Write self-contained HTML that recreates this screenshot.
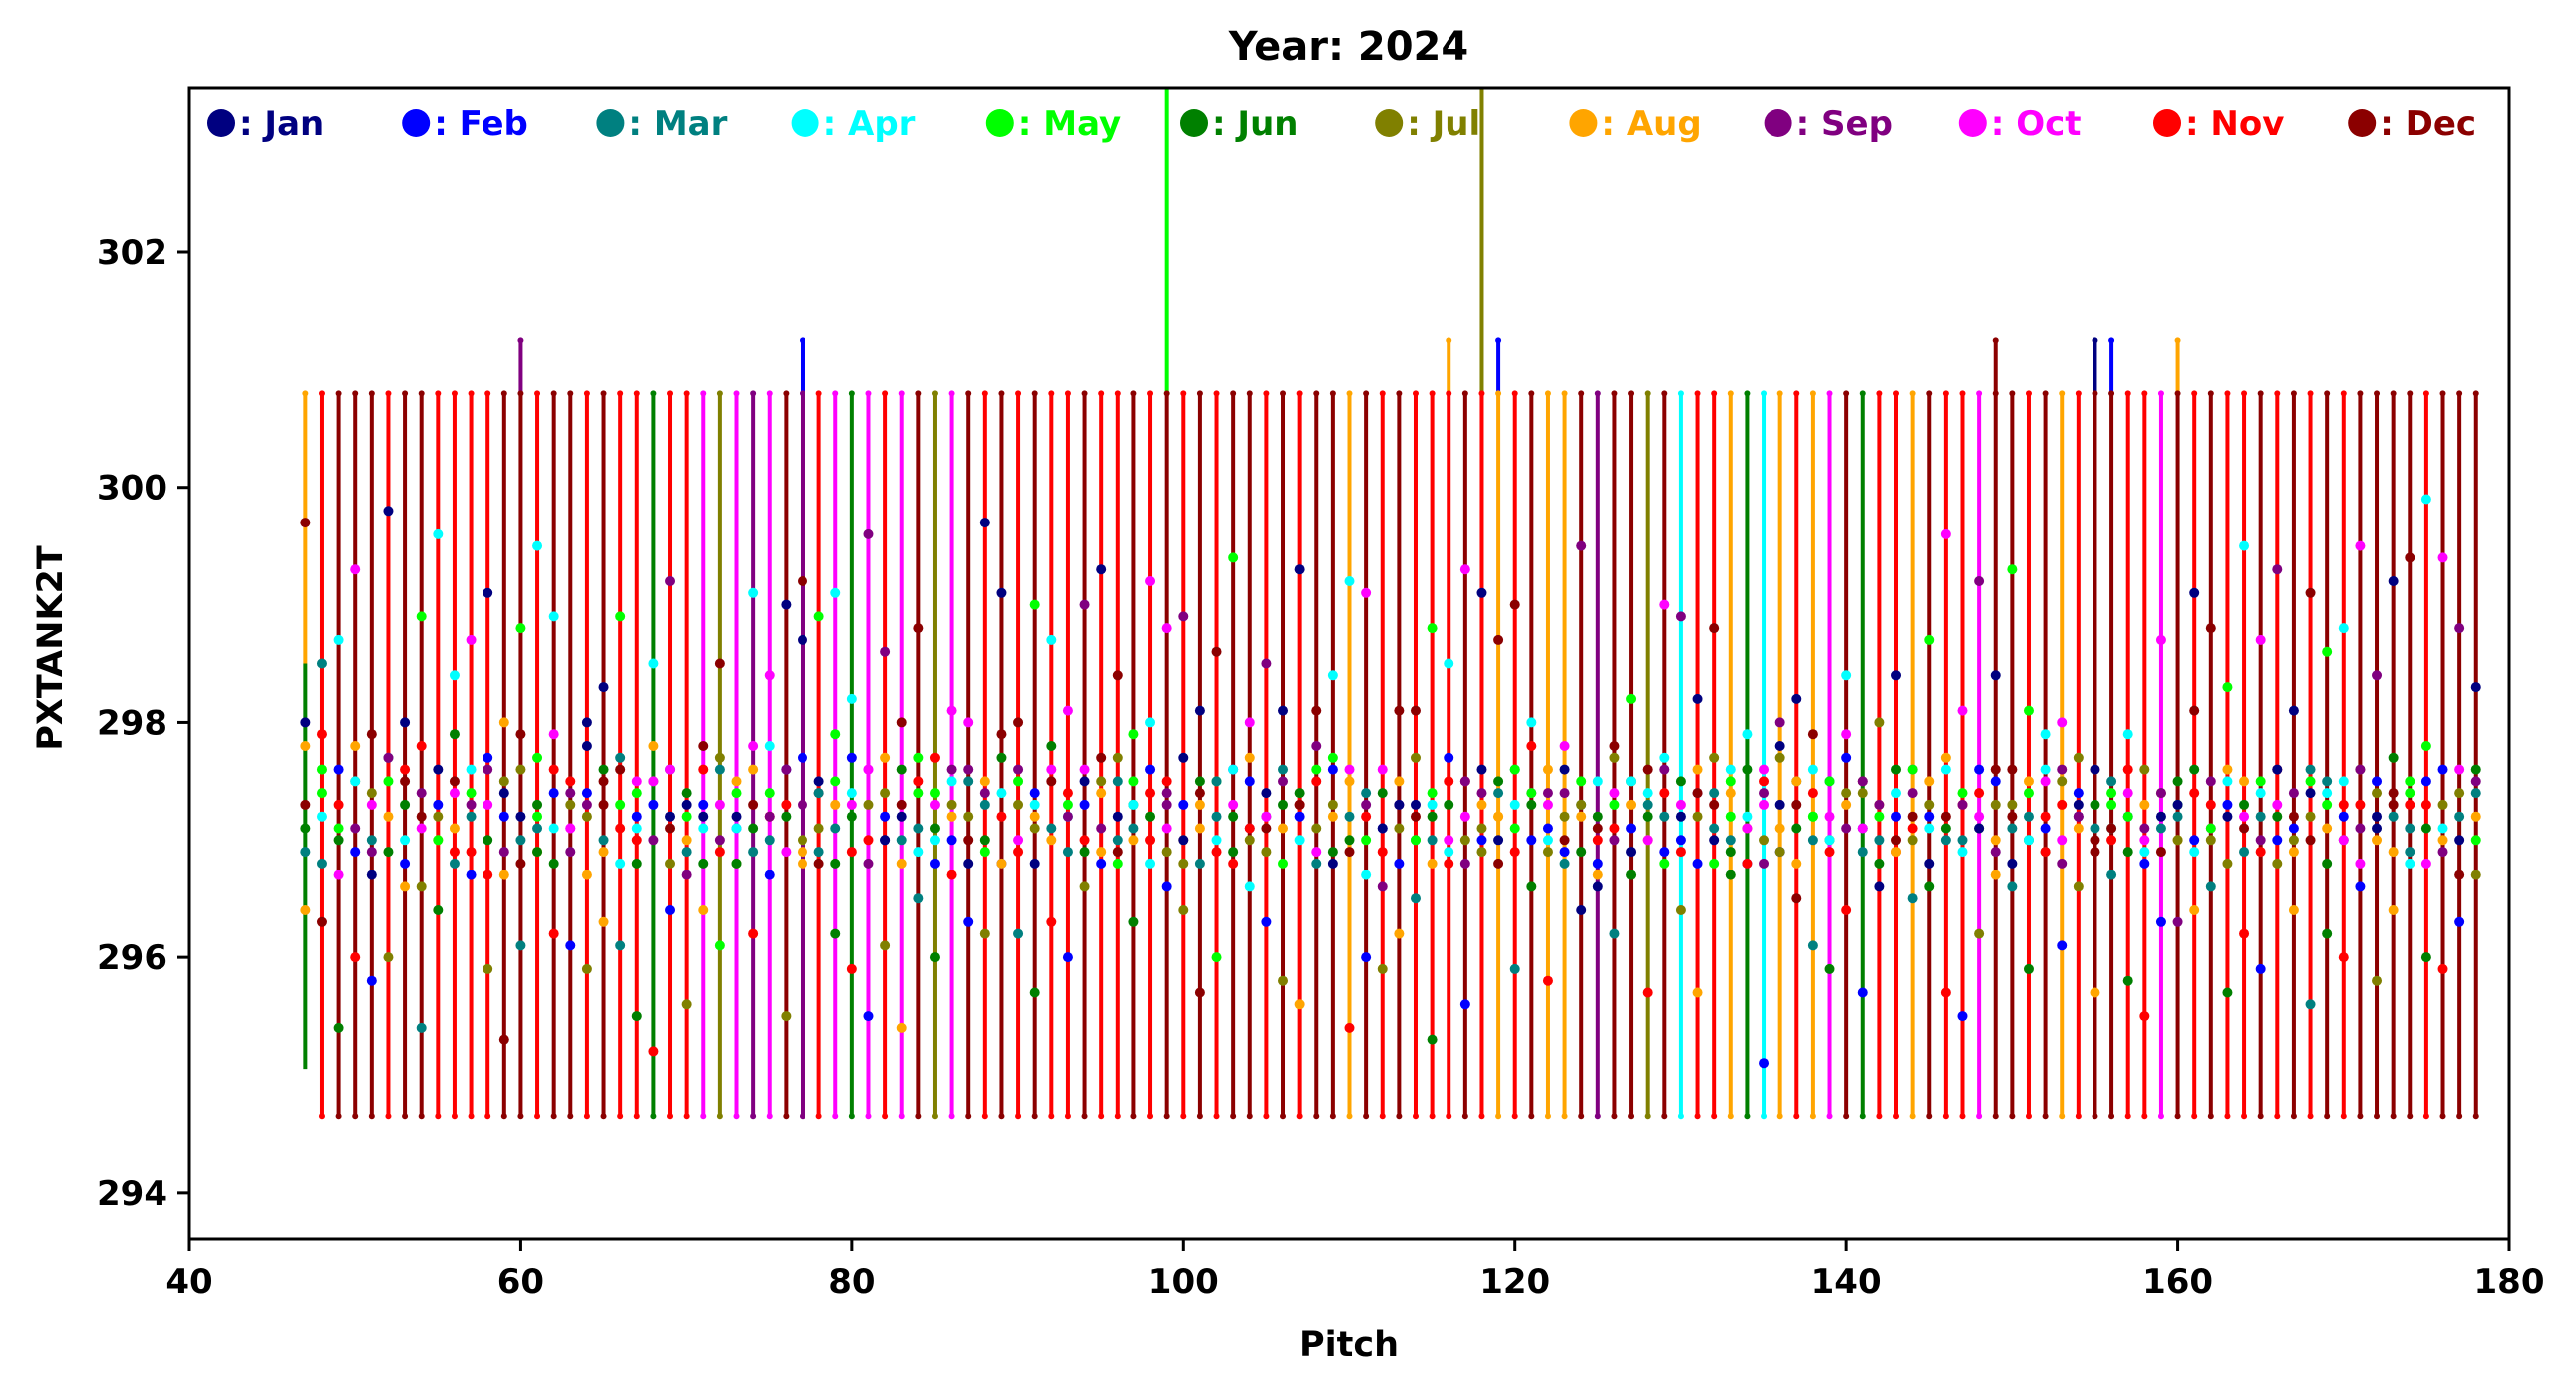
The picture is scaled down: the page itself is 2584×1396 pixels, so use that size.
<!DOCTYPE html>
<html><head><meta charset="utf-8"><style>
html,body{margin:0;padding:0;background:#fff;}
svg text{font-family:"DejaVu Sans","Liberation Sans",sans-serif;font-weight:bold;}
</style></head><body>
<svg id="chart" width="2584" height="1391" viewBox="0 0 2584 1391" xmlns="http://www.w3.org/2000/svg">
<rect width="2584" height="1391" fill="#fff"/>
<text x="1353" y="60" font-size="40" text-anchor="middle">Year: 2024</text>
<g id="plot"></g>
<g id="axes"></g>
<g id="legend"></g>
<text x="1353" y="1360" font-size="35" text-anchor="middle">Pitch</text>
<text x="62" y="650" font-size="35" text-anchor="middle" transform="rotate(-90 62 650)">PXTANK2T</text>
</svg>
<script>
const monthNames=["Jan","Feb","Mar","Apr","May","Jun","Jul","Aug","Sep","Oct","Nov","Dec"];
const monthColors=["#000080","#0000ff","#008080","#00ffff","#00ff00","#008000","#808000","#ffa500","#800080","#ff00ff","#ff0000","#8b0000"];
const xTicks=[40,60,80,100,120,140,160,180];
const yTicks=[294,296,298,300,302];
const pitchStart=48;
const pitchEnd=178;
// body colour (month index) for pitches 48..178
const bodyMonth=[10,11,11,11,10,11,11,10,10,10,10,11,11,10,11,11,10,11,10,10,5,10,10,9,6,9,8,9,11,8,10,9,5,9,10,9,11,6,9,11,10,11,10,11,10,10,11,10,10,11,10,11,10,11,10,11,11,10,11,10,11,11,7,11,10,11,10,10,10,11,10,7,10,11,7,7,11,8,11,11,6,11,3,10,10,7,5,3,7,10,7,9,11,5,10,10,7,11,10,10,9,11,11,10,11,7,10,11,11,10,10,9,11,10,11,10,10,11,10,11,10,11,10,11,11,11,11,10,11,11,11];
const bodyLow=294.65, bodyHigh=300.8;
const extPitch=[47,60,77,99,116,118,119,149,155,156,160];
const extTop=[300.8,301.25,301.25,303.6,301.25,303.6,301.25,301.25,301.25,301.25,301.25];
const extLow=[298.5,300.8,300.8,300.8,300.8,300.8,300.8,300.8,300.8,300.8,300.8];
const extMonth=[7,8,1,4,7,6,1,11,0,1,7];
// scattered dots: three per pitch from 47
const dotVals=[
299.7,296.4,298.0, 297.6,298.5,296.3, 298.7,295.4,297.1, 299.3,296.0,297.5, 296.9,295.8,297.3, 299.8,296.0,297.7,
297.5,296.6,298.0, 298.9,295.4,297.2, 299.6,296.4,297.0, 297.4,296.9,298.4, 297.3,296.7,298.7, 299.1,295.9,297.6,
295.3,296.7,297.4, 298.8,296.1,297.9, 299.5,296.9,297.2, 297.9,296.2,298.9, 297.4,296.1,297.1, 298.0,295.9,297.3,
297.5,296.3,298.3, 298.9,296.1,297.6, 297.1,295.5,297.4, 297.5,295.2,298.5, 299.2,296.4,297.6, 297.3,295.6,296.7,
297.8,296.4,297.2, 296.1,297.6,298.5, 297.1,296.8,297.4, 297.8,296.2,299.1, 297.2,296.7,298.4, 299.0,295.5,297.6,
299.2,296.9,298.7, 298.9,297.4,296.8, 299.1,296.2,297.9, 297.3,295.9,298.2, 299.6,295.5,297.6, 297.0,296.1,298.6,
298.0,295.4,297.2, 297.7,296.5,298.8, 297.0,296.0,297.4, 298.1,296.7,297.5, 297.6,296.3,298.0, 299.7,296.2,297.4,
297.9,296.8,299.1, 297.5,296.2,298.0, 297.3,295.7,299.0, 297.6,296.3,298.7, 297.2,296.0,298.1, 297.5,296.6,299.0,
297.7,296.9,299.3, 296.8,297.5,298.4, 297.3,296.3,297.9, 299.2,297.0,298.0, 297.4,296.6,298.8, 297.0,296.4,298.9,
295.7,297.3,298.1, 296.0,297.5,298.6, 297.6,296.9,299.4, 298.0,297.1,296.6, 298.5,296.3,297.2, 298.1,295.8,297.5,
297.3,295.6,299.3, 297.6,296.8,298.1, 298.4,296.9,297.7, 297.6,295.4,299.2, 297.3,296.0,299.1, 297.1,295.9,296.6,
298.1,296.2,297.3, 297.0,296.5,298.1, 297.3,295.3,298.8, 297.0,296.8,298.5, 297.5,295.6,299.3, 299.1,296.9,297.4,
298.7,297.2,297.0, 297.6,295.9,299.0, 298.0,296.6,297.4, 297.3,295.8,297.0, 297.4,296.9,297.8, 296.4,297.3,299.5,
297.1,296.7,296.6, 297.3,296.2,297.8, 297.5,296.7,298.2, 297.0,295.7,297.4, 297.6,296.9,299.0, 297.2,296.4,298.9,
297.4,295.7,298.2, 296.8,297.4,298.8, 297.6,296.7,297.2, 297.1,296.8,297.9, 296.8,295.1,297.6, 297.8,296.9,298.0,
296.5,297.5,298.2, 297.2,296.1,297.9, 297.0,295.9,297.5, 297.9,296.4,298.4, 297.5,295.7,297.1, 296.6,298.0,297.3,
297.0,296.9,298.4, 297.6,296.5,297.2, 297.1,296.6,298.7, 299.6,295.7,297.6, 297.3,295.5,298.1, 297.1,296.2,299.2,
297.6,296.7,298.4, 299.3,296.6,297.2, 297.0,295.9,298.1, 297.5,296.9,297.9, 297.6,296.1,298.0, 297.3,296.6,297.2,
297.0,295.7,297.6, 297.4,296.7,297.1, 297.9,295.8,297.2, 297.0,295.5,296.9, 297.4,296.3,298.7, 297.3,297.0,296.3,
298.1,296.4,299.1, 297.1,296.6,298.8, 297.5,295.7,298.3, 297.2,296.2,299.5, 297.0,295.9,298.7, 297.6,296.8,299.3,
297.2,296.4,298.1, 297.5,295.6,299.1, 297.4,296.2,298.6, 297.0,296.0,298.8, 297.6,296.6,299.5, 297.1,295.8,298.4,
297.3,296.4,299.2, 297.5,296.9,299.4, 299.9,296.0,297.8, 299.4,295.9,297.1, 298.8,296.3,297.6, 298.3,296.7,297.5
];
// dense cluster dots: four per pitch from 47
const clusterVals=[
296.9,297.3,297.8,297.1, 297.4,296.8,297.9,297.2, 297.0,297.6,296.7,297.3, 297.5,297.1,296.9,297.8, 296.7,297.4,297.0,297.9,
297.2,296.9,297.5,297.7, 297.6,297.0,297.3,296.8, 297.1,297.8,296.6,297.4, 297.3,297.0,297.6,297.2, 296.8,297.5,297.1,297.9,
297.4,297.2,296.9,297.6, 297.0,297.7,297.3,296.7, 297.5,296.9,297.2,298.0, 297.2,297.6,297.0,296.8, 296.9,297.3,297.7,297.1,
297.6,297.1,296.8,297.4, 297.1,297.5,297.3,296.9, 297.4,296.7,297.8,297.2, 297.0,297.3,296.9,297.6, 297.3,297.7,297.1,296.8,
296.8,297.2,297.5,297.0, 297.5,297.0,297.3,297.8, 297.2,296.8,297.6,297.1, 297.0,297.4,297.2,296.9, 297.6,297.1,296.8,297.3,
297.3,296.9,297.7,297.0, 297.1,297.5,297.2,296.8, 296.9,297.3,297.6,297.1, 297.4,297.0,297.2,297.8, 297.2,297.6,296.9,297.3,
297.0,297.3,297.7,296.8, 297.5,297.1,296.9,297.4, 297.3,296.8,297.5,297.1, 296.9,297.4,297.2,297.7, 297.6,297.0,297.3,296.8,
297.2,297.7,297.0,297.4, 297.0,297.3,296.8,297.6, 297.4,297.1,297.5,296.9, 297.1,296.8,297.3,297.7, 297.3,297.6,297.0,297.2,
296.8,297.2,297.5,297.0, 297.5,297.0,296.9,297.3, 297.2,297.4,297.7,296.8, 297.0,296.9,297.3,297.6, 297.4,297.2,296.8,297.1,
297.1,297.5,297.0,297.8, 297.3,296.9,297.4,297.2, 296.9,297.3,297.6,297.0, 297.5,297.1,296.8,297.4, 297.2,297.7,297.0,296.9,
297.0,297.3,297.5,297.1, 297.4,296.8,297.2,297.6, 297.1,297.5,296.9,297.3, 297.3,297.0,297.7,296.8, 296.8,297.4,297.1,297.5,
297.5,297.2,296.9,297.0, 297.2,297.6,297.3,296.8, 297.0,297.1,297.5,297.7, 297.4,296.9,297.2,297.1, 297.1,297.3,296.8,297.6,
297.3,297.0,297.4,297.2, 296.9,297.5,297.1,297.8, 297.6,297.2,296.8,297.3, 297.2,296.9,297.5,297.0, 297.0,297.4,297.2,296.7,
297.4,297.1,297.6,296.9, 297.1,297.3,296.8,297.5, 297.3,297.7,297.0,297.2, 296.8,297.2,297.4,297.0, 297.5,296.9,297.3,297.7,
297.2,297.5,297.0,296.8, 297.0,297.3,297.6,297.1, 297.4,296.8,297.2,297.5, 297.1,297.6,296.9,297.3, 297.3,297.0,297.4,297.8,
296.9,297.4,297.1,297.6, 297.6,297.2,296.8,297.0, 297.2,296.9,297.5,297.3, 297.0,297.5,297.2,296.8, 297.4,297.1,297.7,297.0,
297.1,297.3,296.9,297.5, 297.3,297.6,297.0,297.2, 296.8,297.2,297.4,297.7, 297.5,297.0,297.3,296.9, 297.2,297.4,296.8,297.6,
297.0,297.7,297.1,297.3, 297.4,296.9,297.5,297.0, 297.1,297.2,297.6,296.8, 297.3,297.5,297.0,297.4, 296.9,297.1,297.3,297.7,
297.5,297.3,296.8,297.1, 297.2,297.0,297.4,297.6, 297.0,297.5,297.2,296.9, 297.4,297.1,297.7,297.3, 297.1,297.4,296.9,297.5,
297.3,296.8,297.2,297.0, 296.9,297.4,297.6,297.2, 297.6,297.1,297.0,297.4, 297.2,297.5,296.8,297.3, 297.0,297.2,297.7,297.1,
297.4,297.0,297.3,296.9, 297.1,297.6,297.2,297.4, 297.3,296.9,297.5,297.0, 296.8,297.3,297.1,297.6, 297.5,297.0,297.4,297.2,
297.2,297.6,296.9,297.1, 297.0,297.3,297.5,296.8, 297.4,297.1,297.2,297.7, 297.1,296.9,297.6,297.3, 297.3,297.5,297.0,297.1,
296.9,297.2,297.4,297.6, 297.6,297.1,296.8,297.3, 297.2,297.4,297.1,296.9, 297.0,297.5,297.3,297.2, 297.4,296.9,297.6,297.0,
297.1,297.3,297.0,297.5, 297.3,297.6,297.2,296.8, 296.9,297.1,297.5,297.3, 297.5,297.2,296.9,297.4, 297.2,297.0,297.3,297.6,
297.0,297.4,297.1,296.9, 297.4,297.2,297.6,297.0, 297.1,296.8,297.3,297.5, 297.3,297.5,297.0,297.2, 296.8,297.3,297.6,297.1,
297.5,297.0,297.2,297.4, 297.2,297.4,296.9,297.7, 297.4,297.1,297.3,296.8, 297.1,297.5,296.8,297.3,
297.3,296.9,297.6,297.0, 297.0,297.4,297.2,296.7, 297.2,297.6,297.0,297.4, 296.9,297.3,297.5,297.1
];
function monthFor(i,k){return [11,10,0,5,8,2,9,7,3,6,4,1][(i*7+k*5+Math.floor(i/3))%12];}

const L=190,R=2517,T=88,B=1243,X0=40,X1=180,Y0=293.6,Y1=303.4;
const xs=v=>L+(v-X0)/(X1-X0)*(R-L);
const ys=v=>B-(v-Y0)/(Y1-Y0)*(B-T);
const NS="http://www.w3.org/2000/svg";
function mk(tag,attrs,parent){const e=document.createElementNS(NS,tag);for(const k in attrs)e.setAttribute(k,attrs[k]);parent.appendChild(e);return e;}
const plot=document.getElementById('plot');
const axes=document.getElementById('axes');
const legend=document.getElementById('legend');
const clip=mk('clipPath',{id:'pc'},plot);mk('rect',{x:L,y:T,width:R-L,height:B-T},clip);
plot.setAttribute('clip-path','url(#pc)');
const LW=4;

for(let i=0;i<extPitch.length;i++){
  const c=monthColors[extMonth[i]];
  const ln=mk('line',{x1:xs(extPitch[i]),x2:xs(extPitch[i]),y1:ys(extLow[i]),y2:ys(extTop[i]),stroke:c,'stroke-width':LW},plot);
  
  
  mk('circle',{cx:xs(extPitch[i]),cy:ys(extTop[i]),r:3,fill:c},plot);
}
{const ln=mk('line',{x1:xs(47),x2:xs(47),y1:ys(295.05),y2:ys(298.5),stroke:monthColors[5],'stroke-width':LW},plot);

}
for(let i=0;i<bodyMonth.length;i++){
  const p=pitchStart+i,c=monthColors[bodyMonth[i]];
  const ln=mk('line',{x1:xs(p),x2:xs(p),y1:ys(bodyLow),y2:ys(bodyHigh),stroke:c,'stroke-width':LW},plot);
  
  
  mk('circle',{cx:xs(p),cy:ys(bodyHigh),r:3,fill:c},plot);
  mk('circle',{cx:xs(p),cy:ys(bodyLow),r:3,fill:c},plot);
}
for(let i=0;i<clusterVals.length;i++){
  const p=47+Math.floor(i/4);
  if(p>pitchEnd)break;
  const d=mk('circle',{cx:xs(p),cy:ys(clusterVals[i]),r:5,fill:monthColors[monthFor(i,1)]},plot);
  
  
}
for(let i=0;i<dotVals.length;i++){
  const p=47+Math.floor(i/3);
  if(p>pitchEnd)break;
  const d=mk('circle',{cx:xs(p),cy:ys(dotVals[i]),r:5,fill:monthColors[monthFor(i,0)]},plot);
  
  
}
const fr=mk('rect',{x:L,y:T,width:R-L,height:B-T,fill:'none',stroke:'#000','stroke-width':3},axes);


for(const t of xTicks){
  mk('line',{x1:xs(t),x2:xs(t),y1:B,y2:B+12,stroke:'#000','stroke-width':3},axes);
  const tx=mk('text',{x:xs(t),y:B+54,'font-size':34,'text-anchor':'middle'},axes);tx.textContent=t;
  
  
}
for(const t of yTicks){
  mk('line',{x1:L-12,x2:L,y1:ys(t),y2:ys(t),stroke:'#000','stroke-width':3},axes);
  const tx=mk('text',{x:L-22,y:ys(t)+12,'font-size':34,'text-anchor':'end'},axes);tx.textContent=t;
  
  
}
for(let i=0;i<12;i++){
  const cx=222+i*195.2;
  const g=mk('g',{},legend);
  
  
  mk('ellipse',{cx:cx,cy:123,rx:14,ry:14,fill:monthColors[i]},g);
  const tx=mk('text',{x:cx+18,y:135,'font-size':34,fill:monthColors[i]},g);tx.textContent=": "+monthNames[i];
}
</script>
</body></html>
